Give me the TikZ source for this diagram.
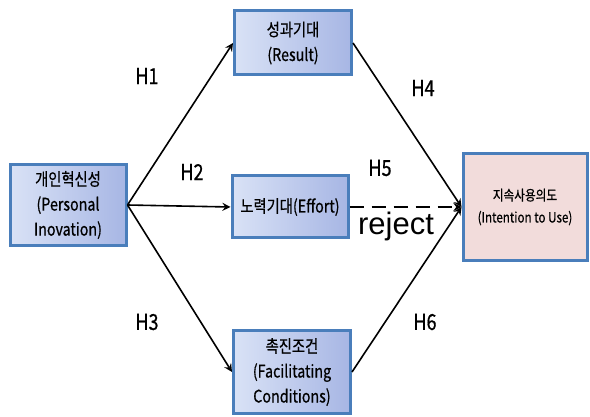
\documentclass[tikz,border=0pt]{standalone}
\usepackage{fontspec}
\setmainfont{Noto Sans CJK KR}[FakeStretch=0.82,FakeBold=0.6]
\newfontfamily\rejfont{Liberation Sans}
\usepackage{tikz}
\usetikzlibrary{positioning}
\definecolor{boxedge}{HTML}{4A7EBB}
\definecolor{boxlight}{HTML}{D9E2F6}
\definecolor{boxdark}{HTML}{A7B6E4}
\definecolor{outfill}{HTML}{F2DCDB}

\begin{document}
\begin{tikzpicture}[x=0.5pt,y=-0.5pt,
	varbox/.style={draw=boxedge,line width=1.5pt,left color=boxlight,right color=boxdark,
		align=center,font=\fontsize{8.7}{12.5}\selectfont,inner sep=1pt},
	outbox/.style={draw=boxedge,line width=1.5pt,fill=outfill,
		align=center,font=\fontsize{7.1}{11}\selectfont,inner sep=1pt},
	hlab/.style={font=\fontsize{11}{13}\selectfont},
	>=stealth]
	\useasboundingbox (0,0) rectangle (590,417);
	\node[varbox,minimum width=58pt,minimum height=40.5pt] (innov) at (68,205) {개인혁신성\\(Personal\\Inovation)};
	\node[varbox,minimum width=58.5pt,minimum height=32pt] (result) at (293,43) {성과기대\\(Result)};
	\node[varbox,minimum width=58pt,minimum height=31pt] (effort) at (290,207) {노력기대(Effort)};
	\node[varbox,minimum width=58.5pt,minimum height=41pt] (facil) at (292,372) {촉진조건\\(Facilitating\\Conditions)};
	\node[outbox,minimum width=62pt,minimum height=53.5pt] (intent) at (525,207) {지속사용의도\\(Intention to Use)};
	\draw[thick,->] (innov.east) -- (result.west);
	\draw[thick,->] (innov.east) -- (effort.west);
	\draw[thick,->] (innov.east) -- (facil.west);
	\draw[thick,->] (result.east) -- (intent.west);
	\draw[thick,->,dashed,dash pattern=on 7pt off 4pt] (effort.east) -- (intent.west);
	\draw[thick,->] (facil.east) -- (intent.west);
	\node[hlab] (h1) at (147,76) {H1};
	\node[hlab] (h2) at (192,172) {H2};
	\node[hlab] (h3) at (147,322) {H3};
	\node[hlab] (h4) at (423,88) {H4};
	\node[hlab] (h5) at (380,168) {H5};
	\node[hlab] (h6) at (425,322) {H6};
	\node[font=\rejfont\fontsize{15.5}{17}\selectfont] (rej) at (396,226) {reject};
\end{tikzpicture}
\end{document}
